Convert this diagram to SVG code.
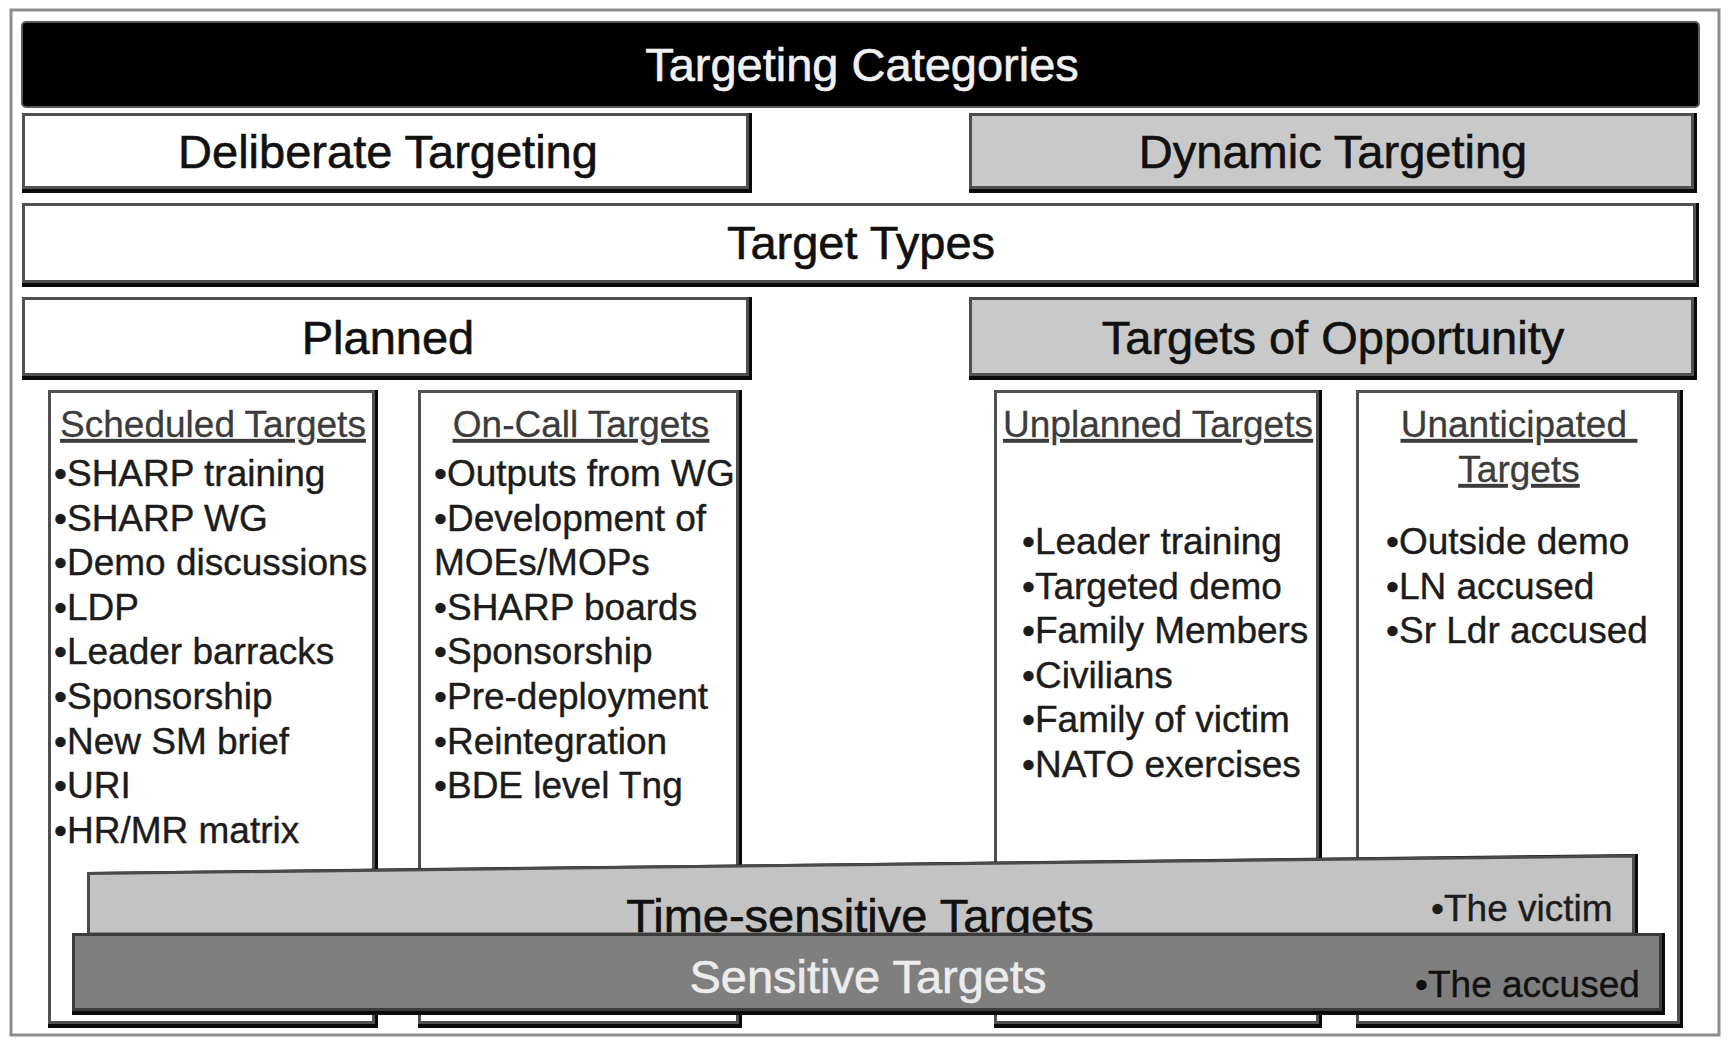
<svg xmlns="http://www.w3.org/2000/svg" width="1728" height="1040" viewBox="0 0 1728 1040">
<style>
  text { font-family: "Liberation Sans", Arial, sans-serif; }
  .big { font-size: 47px; text-anchor: middle; fill: #111; stroke: #111; stroke-width: 0.6; }
  .hdr { font-size: 37px; text-anchor: middle; fill: #3c3c3c; text-decoration: underline; stroke: #3c3c3c; stroke-width: 0.3; }
  .li { font-size: 37px; fill: #1c1c1c; stroke: #1c1c1c; stroke-width: 0.4; }
  .shadow { fill: #0a0a0a; }
  .face { stroke: #505050; stroke-width: 3; }
  .white { fill: #ffffff; }
  .lgrey { fill: #c9c9c9; }
</style>
<rect x="0" y="0" width="1728" height="1040" fill="#ffffff"/>
<rect x="11" y="10" width="1708" height="1025" fill="#ffffff" stroke="#8c8c8c" stroke-width="3"/>

<g id="connectors"></g>

<g id="targeting-categories">
  <rect x="22" y="22" width="1677" height="85" rx="4" fill="#000000" stroke="#5a5a5a" stroke-width="2"/>
  <text class="big" x="862" y="81" style="fill:#f0f0f0;stroke:#f0f0f0">Targeting Categories</text>
</g>

<g id="deliberate-targeting">
  <rect class="shadow" x="22" y="113" width="730" height="80"/>
  <rect class="face white" x="23.5" y="114.5" width="724" height="73"/>
  <text class="big" x="388" y="168">Deliberate Targeting</text>
</g>

<g id="dynamic-targeting">
  <rect class="shadow" x="969" y="113" width="728" height="80"/>
  <rect class="face lgrey" x="970.5" y="114.5" width="722" height="73"/>
  <text class="big" x="1333" y="168">Dynamic Targeting</text>
</g>

<g id="target-types">
  <rect class="shadow" x="22" y="203" width="1677" height="84"/>
  <rect class="face white" x="23.5" y="204.5" width="1671" height="77"/>
  <text class="big" x="861" y="259">Target Types</text>
</g>

<g id="planned">
  <rect class="shadow" x="22" y="297" width="730" height="83"/>
  <rect class="face white" x="23.5" y="298.5" width="724" height="76"/>
  <text class="big" x="388" y="354">Planned</text>
</g>

<g id="targets-of-opportunity">
  <rect class="shadow" x="969" y="297" width="728" height="83"/>
  <rect class="face lgrey" x="970.5" y="298.5" width="722" height="76"/>
  <text class="big" x="1333" y="354">Targets of Opportunity</text>
</g>

<g id="scheduled-targets">
  <rect class="shadow" x="48" y="390" width="330" height="638"/>
  <rect class="face white" x="49.5" y="391.5" width="324" height="631"/>
  <text class="hdr" x="213" y="437">Scheduled Targets</text>
  <text class="li" x="54" y="486">•SHARP training</text>
  <text class="li" x="54" y="530.6">•SHARP WG</text>
  <text class="li" x="54" y="575.2">•Demo discussions</text>
  <text class="li" x="54" y="619.8">•LDP</text>
  <text class="li" x="54" y="664.4">•Leader barracks</text>
  <text class="li" x="54" y="709">•Sponsorship</text>
  <text class="li" x="54" y="753.6">•New SM brief</text>
  <text class="li" x="54" y="798.2">•URI</text>
  <text class="li" x="54" y="842.8">•HR/MR matrix</text>
</g>

<g id="on-call-targets">
  <rect class="shadow" x="418" y="390" width="324" height="638"/>
  <rect class="face white" x="419.5" y="391.5" width="318" height="631"/>
  <text class="hdr" x="581" y="437">On-Call Targets</text>
  <text class="li" x="434" y="486">•Outputs from WG</text>
  <text class="li" x="434" y="530.6">•Development of</text>
  <text class="li" x="434" y="575.2">MOEs/MOPs</text>
  <text class="li" x="434" y="619.8">•SHARP boards</text>
  <text class="li" x="434" y="664.4">•Sponsorship</text>
  <text class="li" x="434" y="709">•Pre-deployment</text>
  <text class="li" x="434" y="753.6">•Reintegration</text>
  <text class="li" x="434" y="798.2">•BDE level Tng</text>
</g>

<g id="unplanned-targets">
  <rect class="shadow" x="994" y="390" width="328" height="638"/>
  <rect class="face white" x="995.5" y="391.5" width="322" height="631"/>
  <text class="hdr" x="1158" y="437">Unplanned Targets</text>
  <text class="li" x="1022" y="554">•Leader training</text>
  <text class="li" x="1022" y="598.6">•Targeted demo</text>
  <text class="li" x="1022" y="643.2">•Family Members</text>
  <text class="li" x="1022" y="687.8">•Civilians</text>
  <text class="li" x="1022" y="732.4">•Family of victim</text>
  <text class="li" x="1022" y="777">•NATO exercises</text>
</g>

<g id="unanticipated-targets">
  <rect class="shadow" x="1356" y="390" width="327" height="638"/>
  <rect class="face white" x="1357.5" y="391.5" width="321" height="631"/>
  <text class="hdr" x="1519" y="437">Unanticipated&#160;</text>
  <text class="hdr" x="1519" y="482">Targets</text>
  <text class="li" x="1386" y="554">•Outside demo</text>
  <text class="li" x="1386" y="598.6">•LN accused</text>
  <text class="li" x="1386" y="643.2">•Sr Ldr accused</text>
</g>

<g id="time-sensitive-targets">
  <polygon points="87,872 1638,854 1638,936 87,936" fill="#0a0a0a"/>
  <polygon points="88.5,873.5 1633.5,856 1633.5,934 88.5,934" fill="#c3c3c3" stroke="#4a4a4a" stroke-width="3"/>
  <text class="big" x="860" y="932">Time-sensitive Targets</text>
  <text class="li" x="1431" y="921">•The victim</text>
</g>

<g id="sensitive-targets">
  <rect class="shadow" x="72" y="933" width="1593" height="82"/>
  <rect x="73.5" y="934.5" width="1587" height="75" fill="#7f7f7f" stroke="#3c3c3c" stroke-width="3"/>
  <text class="big" x="868" y="993" style="fill:#ececec;stroke:#ececec">Sensitive Targets</text>
  <text class="li" x="1415" y="997" style="fill:#111;stroke:#111">•The accused</text>
</g>
</svg>
